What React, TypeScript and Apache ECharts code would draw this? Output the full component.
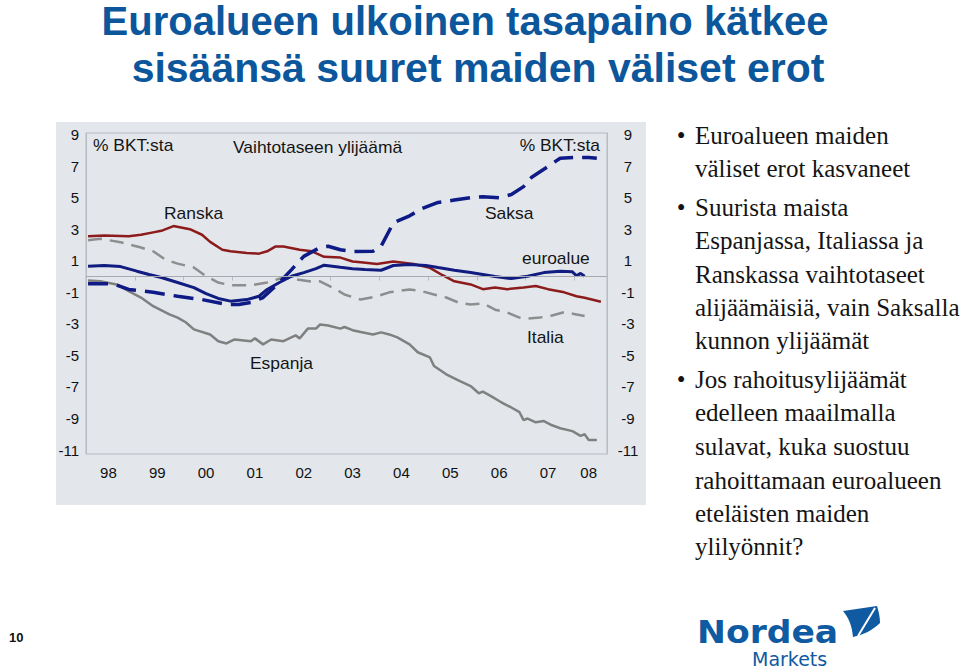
import React, { useEffect, useRef } from 'react';
import * as echarts from 'echarts';

// ---- data ----
const yearLabels = ['98', '99', '00', '01', '02', '03', '04', '05', '06', '07', '08'];
const monthCount = 128; // Jan 1998 .. Aug 2008

// [month index, % of GDP]
const ranska: [number, number][] = [
  [0, 2.55], [4, 2.6], [10, 2.55], [13, 2.65], [16, 2.8], [18, 2.9], [21, 3.2], [25, 3.0], [28, 2.65],
  [30, 2.2], [33, 1.7], [35, 1.6], [39, 1.5], [42, 1.45], [44, 1.6], [46, 1.9], [48, 1.9], [52, 1.7],
  [55, 1.6], [58, 1.25], [62, 1.2], [65, 0.95], [67, 0.9], [71, 0.8], [75, 0.95], [80, 0.8], [84, 0.55],
  [87, 0.1], [90, -0.3], [94, -0.5], [97, -0.8], [100, -0.7], [103, -0.8], [107, -0.7], [110, -0.6],
  [113, -0.8], [117, -1.0], [120, -1.25], [122, -1.35], [126, -1.6],
];
const euroalue: [number, number][] = [
  [0, 0.65], [4, 0.7], [8, 0.63], [12, 0.34], [15, 0.13], [18, -0.06], [22, -0.38], [26, -0.7], [29, -1.08],
  [32, -1.39], [35, -1.56], [39, -1.46], [42, -1.25], [44, -0.82], [47, -0.38], [50, 0.02], [53, 0.25],
  [56, 0.5], [58, 0.72], [62, 0.59], [65, 0.5], [68, 0.44], [72, 0.4], [75, 0.7], [79, 0.76], [83, 0.7],
  [86, 0.57], [90, 0.4], [94, 0.25], [97, 0.13], [100, 0], [104, -0.13], [108, 0.02], [112, 0.25],
  [116, 0.34], [119, 0.3], [120, 0.05], [121, 0.2], [122, 0.02],
];
const saksa: [number, number][] = [
  [0, -0.45], [6, -0.45], [10, -0.82], [16, -1.0], [22, -1.25], [28, -1.46], [34, -1.77], [37, -1.77],
  [40, -1.65], [43, -1.33], [47, -0.38], [50, 0.44], [53, 1.28], [57, 1.84], [59, 1.92], [62, 1.7],
  [65, 1.58], [70, 1.6], [72, 1.92], [75, 3.4], [79, 3.85], [82, 4.3], [86, 4.7], [90, 4.85], [94, 5.0],
  [97, 5.06], [101, 5.0], [104, 5.2], [107, 5.7], [109, 6.3], [113, 6.98], [116, 7.5], [120, 7.55],
  [123, 7.55], [125, 7.5],
];
const italia: [number, number][] = [
  [0, 2.3], [3, 2.4], [8, 2.17], [13, 1.84], [16, 1.6], [19, 1.08], [22, 0.82], [26, 0.57], [29, 0.02],
  [32, -0.38], [35, -0.55], [40, -0.55], [44, -0.38], [48, -0.06], [50, -0.13], [55, -0.32], [57, -0.3],
  [61, -0.82], [63, -1.14], [65, -1.3], [67, -1.46], [71, -1.25], [74, -1.0], [79, -0.82], [82, -0.93],
  [85, -1.14], [88, -1.33], [91, -1.65], [94, -1.77], [97, -1.7], [100, -2.1], [103, -2.28], [106, -2.6],
  [108, -2.66], [111, -2.6], [114, -2.47], [117, -2.26], [120, -2.4], [122, -2.5],
];
const espanja: [number, number][] = [
  [0, -0.25], [3, -0.3], [7, -0.5], [10, -0.93], [13, -1.33], [16, -1.88], [20, -2.4], [22, -2.6],
  [24, -2.9], [26, -3.35], [30, -3.67], [32, -4.1], [34, -4.24], [36, -3.99], [40, -4.1], [41, -3.92],
  [43, -4.3], [45, -3.99], [48, -4.1], [51, -3.73], [52, -3.92], [54, -3.3], [56, -3.3], [57, -3.04],
  [59, -3.1], [62, -3.3], [63, -3.2], [65, -3.4], [67, -3.52], [70, -3.67], [72, -3.54], [74, -3.67],
  [76, -3.86], [79, -4.3], [81, -4.8], [84, -5.13], [85, -5.67], [88, -6.2], [91, -6.58], [94, -6.94],
  [96, -7.4], [97, -7.3], [99, -7.58], [101, -7.89], [102, -8.04], [104, -8.3], [106, -8.6], [107, -9.1],
  [108, -9.0], [110, -9.24], [112, -9.16], [114, -9.43], [116, -9.62], [119, -9.8], [121, -10.1],
  [122, -10.0], [123, -10.36], [125, -10.36],
];

const titleLines = ['Euroalueen ulkoinen tasapaino kätkee', 'sisäänsä suuret maiden väliset erot'];
const bulletLines: { text: string; bullet: boolean }[] = [
  { text: 'Euroalueen maiden', bullet: true },
  { text: 'väliset erot kasvaneet', bullet: false },
  { text: 'Suurista maista', bullet: true },
  { text: 'Espanjassa, Italiassa ja', bullet: false },
  { text: 'Ranskassa vaihtotaseet', bullet: false },
  { text: 'alijäämäisiä, vain Saksalla', bullet: false },
  { text: 'kunnon ylijäämät', bullet: false },
  { text: 'Jos rahoitusylijäämät', bullet: true },
  { text: 'edelleen maailmalla', bullet: false },
  { text: 'sulavat, kuka suostuu', bullet: false },
  { text: 'rahoittamaan euroalueen', bullet: false },
  { text: 'eteläisten maiden', bullet: false },
  { text: 'ylilyönnit?', bullet: false },
];
const bulletY = [135, 168, 207, 240, 274, 307, 340, 379, 412, 446, 480, 513, 546];

// ---- shapes ----
echarts.graphic.registerShape(
  'nordeaSail',
  echarts.graphic.extendPath('M0,5 L34,0 C36,6 37,12 37,17 C30,24 20,29 10,31 C9,20 6,12 0,5 Z', {})
);

const axisColor = '#b7bbc2';
const sansFont = '"Liberation Sans", Arial, sans-serif';

function yFmt(v: number): string {
  const r = Math.round(v);
  if (Math.abs(v - r) > 1e-6) return '';
  if (Math.abs(r % 2) !== 1) return '';
  return String(r);
}

function note(text: string, x: number, y: number, align: string = 'left') {
  return {
    type: 'text', x, y, scaleX: 1.09,
    style: { text, fill: '#151515', font: `16px ${sansFont}`, align, verticalAlign: 'middle' },
  };
}

export default function App() {
  const ref = useRef<HTMLDivElement>(null);
  useEffect(() => {
    if (!ref.current) return;
    const chart = echarts.init(ref.current, null, { renderer: 'svg' });
    const categories = Array.from({ length: monthCount }, (_, i) => `${yearLabels[Math.floor(i / 12)]}-${(i % 12) + 1}`);

    const lineSeries = (name: string, data: [number, number][], color: string, width: number, type: any, extra: any = {}) => ({
      name,
      type: 'line',
      data,
      showSymbol: false,
      symbol: 'none',
      lineStyle: { color, width, type, cap: 'butt' },
      itemStyle: { color },
      ...extra,
    });

    const graphics: any[] = [
      { type: 'rect', shape: { x: 56, y: 122, width: 590, height: 383 }, style: { fill: '#e3e7ec' }, z: -10, silent: true },
      { type: 'text', x: 465, y: 21, style: { text: titleLines[0], fill: '#0c569c', font: `bold 40px ${sansFont}`, align: 'center', verticalAlign: 'middle', lineHeight: 40 } },
      { type: 'text', x: 478, y: 68, style: { text: titleLines[1], fill: '#0c569c', font: `bold 41px ${sansFont}`, align: 'center', verticalAlign: 'middle', lineHeight: 40 } },
      // in-plot annotations
      note('% BKT:sta', 93, 146),
      note('Vaihtotaseen ylijäämä', 233, 148),
      note('% BKT:sta', 600, 146, 'right'),
      note('Ranska', 164, 214),
      note('Saksa', 485, 214),
      note('euroalue', 522, 259),
      note('Italia', 527, 338),
      note('Espanja', 250, 364),
      // bullets
      ...bulletLines.flatMap((b, i) => {
        const items: any[] = [
          { type: 'text', x: 695, y: bulletY[i], style: { text: b.text, fill: '#141414', font: '25px "Liberation Serif", serif', verticalAlign: 'middle' } },
        ];
        if (b.bullet) {
          items.push({ type: 'text', x: 681, y: bulletY[i], style: { text: '•', fill: '#141414', font: '25px "Liberation Serif", serif', align: 'center', verticalAlign: 'middle' } });
        }
        return items;
      }),
      // page number
      { type: 'text', x: 9, y: 637, style: { text: '10', fill: '#111', font: `bold 13px ${sansFont}`, verticalAlign: 'middle' } },
      // logo
      { type: 'text', x: 697, y: 632, scaleX: 1.08, style: { text: 'Nordea', fill: '#0f5aa0', font: 'bold 32px "DejaVu Sans", sans-serif', verticalAlign: 'middle', lineHeight: 26 } },
      { type: 'text', x: 752, y: 659, style: { text: 'Markets', fill: '#0f5aa0', font: '19px "DejaVu Sans", sans-serif', verticalAlign: 'middle', lineHeight: 16 } },
      { type: 'nordeaSail', x: 843, y: 606, style: { fill: '#0f5aa0' } },
      { type: 'line', shape: { x1: 875, y1: 608, x2: 858, y2: 636 }, style: { stroke: '#ffffff', lineWidth: 2 } },
    ];

    chart.setOption({
      animation: false,
      backgroundColor: '#ffffff',
      grid: { left: 86, right: 353, top: 133, bottom: 215, show: true, borderColor: axisColor, borderWidth: 1, backgroundColor: 'transparent' },
      xAxis: {
        type: 'category',
        data: categories,
        boundaryGap: true,
        axisLine: { show: true, lineStyle: { color: axisColor, width: 1 } },
        axisTick: { show: true, interval: (i: number) => i % 12 === 0, length: 4, lineStyle: { color: axisColor } },
        axisLabel: {
          interval: (i: number) => (i % 12 === 5 && i < 120) || i === 123,
          formatter: (v: string) => v.split('-')[0],
          color: '#111',
          fontSize: 15,
          fontFamily: sansFont,
          margin: 11,
        },
        splitLine: { show: false },
      },
      yAxis: [
        {
          type: 'value', position: 'left', min: -11.25, max: 9.1, interval: 0.25,
          axisLine: { show: true, lineStyle: { color: axisColor } },
          axisTick: { show: false },
          splitLine: { show: false },
          axisLabel: { formatter: yFmt, color: '#111', fontSize: 15, fontFamily: sansFont, margin: 7 },
        },
        {
          type: 'value', position: 'right', min: -11.25, max: 9.1, interval: 0.25,
          axisLine: { show: true, lineStyle: { color: axisColor } },
          axisTick: { show: false },
          splitLine: { show: false },
          axisLabel: { formatter: yFmt, color: '#111', fontSize: 15, fontFamily: sansFont, margin: 21, align: 'center' },
        },
      ],
      series: [
        lineSeries('Espanja', espanja, '#808080', 2.5, 'solid', {
          markLine: {
            silent: true, symbol: 'none', label: { show: false },
            lineStyle: { color: '#a7abb1', width: 1, type: 'solid' },
            data: [{ yAxis: 0 }],
          },
        }),
        lineSeries('Italia', italia, '#8e8e8e', 2.5, [14, 8]),
        lineSeries('Ranska', ranska, '#8c1b1b', 2.5, 'solid'),
        lineSeries('euroalue', euroalue, '#111c80', 3, 'solid'),
        lineSeries('Saksa', saksa, '#0e1a86', 3.5, [20, 9]),
      ],
      graphic: graphics,
    });
    return () => chart.dispose();
  }, []);
  return <div ref={ref} style={{ position: 'absolute', left: 0, top: 0, width: 960, height: 669 }} />;
}
